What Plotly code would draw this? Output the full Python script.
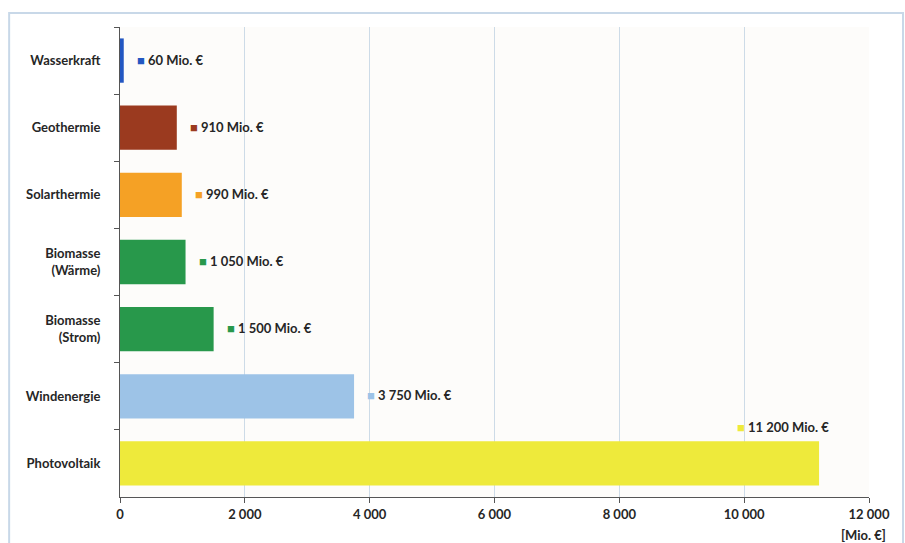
import plotly.graph_objects as go

categories = ["Wasserkraft", "Geothermie", "Solarthermie", "Biomasse<br>(Wärme)",
              "Biomasse<br>(Strom)", "Windenergie", "Photovoltaik"]
values = [60, 910, 990, 1050, 1500, 3750, 11200]
labels = ["60 Mio. €", "910 Mio. €", "990 Mio. €", "1 050 Mio. €",
          "1 500 Mio. €", "3 750 Mio. €", "11 200 Mio. €"]
colors = ["#2357c2", "#9b3a1f", "#f5a125", "#28984b", "#28984b", "#9dc3e7", "#eeea3b"]
tick_vals = [0, 2000, 4000, 6000, 8000, 10000, 12000]
tick_text = ["0", "2 000", "4 000", "6 000", "8 000", "10 000", "12 000"]

FONT = dict(family="Lato, Open Sans, sans-serif", size=13, color="#262626", weight="bold")

fig = go.Figure()
fig.add_trace(go.Bar(
    y=categories, x=values, orientation="h",
    marker=dict(color=colors, line=dict(width=0)),
    hoverinfo="skip",
))

for i, (c, v, lab, col) in enumerate(zip(categories, values, labels, colors)):
    txt = f"<span style='color:{col}'>■</span> {lab}"
    if i == len(categories) - 1:
        fig.add_annotation(x=v, y=c, text=txt, showarrow=False, xanchor="right",
                           xshift=12, yshift=36, font=FONT)
    else:
        fig.add_annotation(x=v, y=c, text=txt, showarrow=False, xanchor="left",
                           xshift=11, yshift=1, font=FONT)

fig.add_annotation(xref="paper", yref="paper", x=1.0254, y=-0.081, text="<b>[Mio. €]</b>",
                   showarrow=False, xanchor="right", yanchor="middle", font=FONT)

# outer frame
fig.add_shape(type="rect", xref="paper", yref="paper", x0=-0.148, x1=1.0454,
              y0=-0.2, y1=1.0298, line=dict(color="#c8d8e8", width=2), layer="below")

fig.update_layout(
    width=905, height=543,
    margin=dict(l=120, r=36, t=27, b=46),
    paper_bgcolor="#ffffff", plot_bgcolor="#fdfcfa",
    bargap=0.34, showlegend=False,
    font=FONT,
    xaxis=dict(range=[0, 12000], autorange=False, tickvals=tick_vals, ticktext=tick_text,
               showgrid=True, gridcolor="#cddbe7", gridwidth=1,
               showline=True, linecolor="#555555", linewidth=1,
               ticks="outside", ticklen=5, tickcolor="#555555",
               zeroline=False, tickfont=FONT, fixedrange=True, automargin=False),
    yaxis=dict(categoryorder="array", categoryarray=categories,
               range=[6.5, -0.5], autorange=False,
               showline=True, linecolor="#555555", linewidth=1,
               ticks="outside", ticklen=5, tickcolor="#555555", tickson="boundaries",
               showgrid=False, tickfont=FONT, ticklabelstandoff=16, fixedrange=True,
               automargin=False),
)

fig.write_html("out.html")
